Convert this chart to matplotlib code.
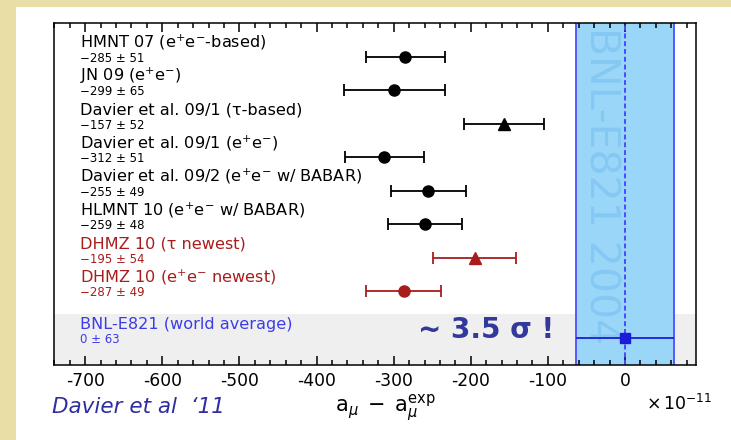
import matplotlib
matplotlib.use("Agg")
import matplotlib.pyplot as plt
from matplotlib.patches import Rectangle
from matplotlib.ticker import MultipleLocator

plt.rcParams['font.family'] = ['DejaVu Sans']
plt.rcParams['mathtext.fontset'] = 'dejavusans'
plt.rcParams['axes.unicode_minus'] = False

# ---------------- data ----------------
names = ['HMNT 07 (e$^{+}$e$^{-}$-based)',
         'JN 09 (e$^{+}$e$^{-}$)',
         'Davier et al. 09/1 (τ-based)',
         'Davier et al. 09/1 (e$^{+}$e$^{-}$)',
         'Davier et al. 09/2 (e$^{+}$e$^{-}$ w/ BABAR)',
         'HLMNT 10 (e$^{+}$e$^{-}$ w/ BABAR)',
         'DHMZ 10 (τ newest)',
         'DHMZ 10 (e$^{+}$e$^{-}$ newest)']
values = [-285, -299, -157, -312, -255, -259, -195, -287]
errors = [51, 65, 52, 51, 49, 48, 54, 49]
markers = ['o', 'o', '^', 'o', 'o', 'o', '^', 'o']
colors = ['black'] * 6 + ['#a81c1c'] * 2

avg_name = 'BNL-E821 (world average)'
avg_value = 0
avg_error = 63
band_label = 'BNL-E821 2004'
xticks = [-700, -600, -500, -400, -300, -200, -100, 0]

# ---------------- figure ----------------
fig = plt.figure(figsize=(7.31, 4.40), dpi=100)
fig.patch.set_facecolor('#e8dea6')
fig.patches.append(Rectangle((16 / 731, 0), 1, 1 - 7 / 440, transform=fig.transFigure,
                             facecolor='white', edgecolor='none', zorder=-10))

ax = fig.add_axes([54.3 / 731, 75 / 440, (696 - 54.3) / 731, (417.3 - 75) / 440])
ax.set_facecolor('white')
ax.set_xlim(-740, 92)
ax.set_ylim(10.2, -0.015)

rows = list(range(1, len(values) + 1))
avg_row = 9.4

# grey band for world average
ax.axhspan(8.68, 10.2, color='#efefef', zorder=0, lw=0)
# blue experimental band
ax.axvspan(avg_value - avg_error, avg_value + avg_error, color='#9ad6f8', zorder=1, lw=0)
for xb in (avg_value - avg_error, avg_value + avg_error):
    ax.axvline(xb, color='#5858ff', lw=1.4, zorder=2)
ax.axvline(avg_value, color='#4a4aff', lw=1.4, ls=(0, (2.5, 1.5)), zorder=2)

ax.text(-31.5, 0.12, band_label, rotation=-90, ha='center', va='top',
        fontsize=29.5, color='#86c8f4', zorder=1.5, clip_on=True)

for i, (v, e, m, c, n) in enumerate(zip(values, errors, markers, colors, names)):
    y = rows[i]
    ax.errorbar(v, y, xerr=e, fmt=m, color=c, ms=8 if m == 'o' else 8.5,
                capsize=4.5, capthick=1.3, elinewidth=1.3, zorder=4)
    ax.text(-707, y - 0.42, n, color=c, fontsize=11.6, ha='left', va='center', zorder=5)
    ax.text(-707, y + 0.05, f'{v:d} ± {e}'.replace('-', '−'), color=c,
            fontsize=8.5, ha='left', va='center', zorder=5)

ax.errorbar(avg_value, avg_row, xerr=avg_error, fmt='s', color='#1c1cd6', ms=7,
            capsize=0, elinewidth=1.3, zorder=4)
ax.text(-707, avg_row - 0.42, avg_name, color='#3c3ce8', fontsize=11.6,
        ha='left', va='center', zorder=5)
ax.text(-707, avg_row + 0.05, f'{avg_value:d} ± {avg_error}', color='#3c3ce8',
        fontsize=8.5, ha='left', va='center', zorder=5)

ax.text(-268, 9.15, '~ 3.5 σ !', color='#33389c', fontsize=20, fontweight='bold',
        ha='left', va='center', zorder=5)

# axes styling
ax.set_yticks([])
ax.set_xticks(xticks)
ax.set_xticklabels([str(t) for t in xticks])
ax.xaxis.set_minor_locator(MultipleLocator(20))
ax.tick_params(axis='x', which='both', direction='in', top=True, bottom=True,
               labelsize=12.3, pad=5, width=1.1)
ax.tick_params(axis='x', which='major', length=6.5)
ax.tick_params(axis='x', which='minor', length=3.3)
for s in ax.spines.values():
    s.set_linewidth(1.1)
    s.set_zorder(6)

fig.text(712 / 731, 1 - 404 / 440, r'$\times\,10^{-11}$', ha='right', va='center',
         fontsize=12.5, color='black')
fig.text(385 / 731, 1 - 408 / 440, r'$\mathrm{a}_{\mu}\;-\;\mathrm{a}_{\mu}^{\mathrm{exp}}$',
         ha='center', va='center', fontsize=15, color='black')
fig.text(52 / 731, 1 - 407 / 440, 'Davier et al  ‘11', ha='left', va='center',
         fontsize=15.5, style='italic', color='#2e2e9e')

fig.savefig('out.png', dpi=100, facecolor=fig.get_facecolor())
